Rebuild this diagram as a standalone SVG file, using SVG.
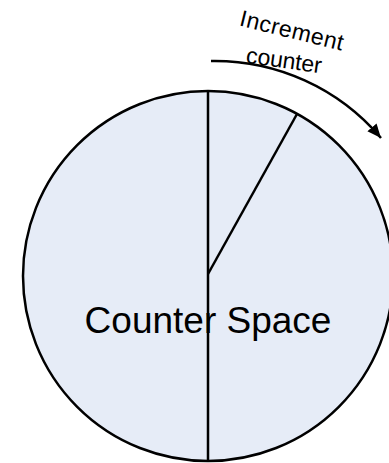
<svg xmlns="http://www.w3.org/2000/svg" width="389" height="463" viewBox="0 0 389 463">
<style>
.ln{stroke:#000;stroke-width:2.5;fill:none}
.t{font-family:"Liberation Sans",Arial,sans-serif;fill:#000}
</style>
<defs>
<marker id="ah" markerUnits="userSpaceOnUse" markerWidth="16" markerHeight="14" refX="14" refY="7" orient="auto">
<polygon points="0,1 14,7 0,13" fill="#000"/>
</marker>
</defs>
<g id="counter-space">
<circle cx="208" cy="276" r="185" fill="#E6ECF7" stroke="#000" stroke-width="2.5"/>
<line class="ln" x1="208" y1="91" x2="208" y2="461"/>
<line class="ln" x1="208" y1="274" x2="297" y2="114"/>
<text class="t" x="208" y="333" font-size="37" text-anchor="middle">Counter Space</text>
</g>
<g id="connectors">
<path class="ln" d="M211,61 A218,218 0 0 1 381,138" marker-end="url(#ah)"/>
</g>
<g id="label">
<text class="t" font-size="23" text-anchor="middle" transform="translate(290,38) rotate(13.8)" textLength="106" lengthAdjust="spacing">Increment</text>
<text class="t" font-size="23" text-anchor="middle" transform="translate(283,68) rotate(8)" textLength="76" lengthAdjust="spacing">counter</text>
</g>
</svg>
